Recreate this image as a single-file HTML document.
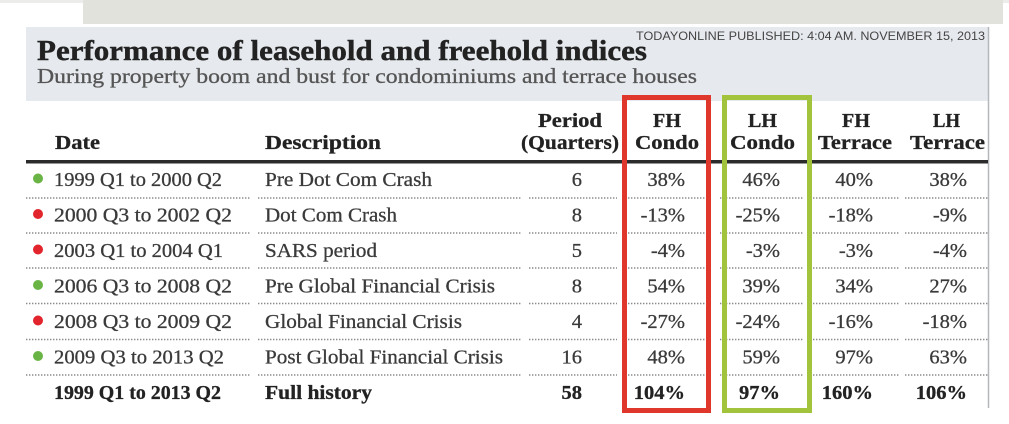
<!DOCTYPE html>
<html>
<head>
<meta charset="utf-8">
<style>
html,body{margin:0;padding:0;background:#fff;}
svg{display:block;}
.t{font-family:"Liberation Serif",serif;}
.s{font-family:"Liberation Sans",sans-serif;}
</style>
</head>
<body>
<svg width="1009" height="424" viewBox="0 0 1009 424" xmlns="http://www.w3.org/2000/svg">
<rect x="0" y="0" width="1009" height="424" fill="#ffffff"/>
<!-- top strip -->
<rect x="0" y="0" width="1009" height="3" fill="#ececea"/>
<rect x="83" y="0" width="920" height="24" fill="#e2e2dd"/>
<!-- title panel -->
<rect x="26" y="27" width="962" height="74" fill="#e6eaee"/>
<line x1="988.5" y1="27" x2="988.5" y2="408" stroke="#b5b8bb" stroke-width="1.5"/>

<text class="t" x="37" y="60" font-size="28" font-weight="bold" fill="#222" stroke="#222" stroke-width="0.4" textLength="610" lengthAdjust="spacingAndGlyphs">Performance of leasehold and freehold indices</text>
<text class="t" x="37" y="83" font-size="21.5" fill="#555" stroke="#555" stroke-width="0.3" textLength="660" lengthAdjust="spacingAndGlyphs">During property boom and bust for condominiums and terrace houses</text>
<text class="s" x="636" y="40" font-size="12" fill="#444" textLength="349" lengthAdjust="spacingAndGlyphs">TODAYONLINE PUBLISHED: 4:04 AM. NOVEMBER 15, 2013</text>

<!-- header -->
<g class="t" font-size="20" font-weight="bold" fill="#222" stroke="#222" stroke-width="0.3">
<text x="55" y="149" textLength="45" lengthAdjust="spacingAndGlyphs">Date</text>
<text x="265" y="149" textLength="116" lengthAdjust="spacingAndGlyphs">Description</text>
<text x="538" y="127" textLength="64" lengthAdjust="spacingAndGlyphs">Period</text>
<text x="521" y="149" textLength="98" lengthAdjust="spacingAndGlyphs">(Quarters)</text>
<text x="653" y="127" textLength="28" lengthAdjust="spacingAndGlyphs">FH</text>
<text x="635" y="149" textLength="64" lengthAdjust="spacingAndGlyphs">Condo</text>
<text x="748" y="127" textLength="29" lengthAdjust="spacingAndGlyphs">LH</text>
<text x="730" y="149" textLength="65" lengthAdjust="spacingAndGlyphs">Condo</text>
<text x="842" y="127" textLength="28" lengthAdjust="spacingAndGlyphs">FH</text>
<text x="818" y="149" textLength="74" lengthAdjust="spacingAndGlyphs">Terrace</text>
<text x="933" y="127" textLength="27" lengthAdjust="spacingAndGlyphs">LH</text>
<text x="910" y="149" textLength="75" lengthAdjust="spacingAndGlyphs">Terrace</text>
</g>
<rect x="26" y="160" width="962" height="3.5" fill="#2b2b2b"/>

<!-- dotted lines -->
<g stroke="#8a8a8a" stroke-width="1.4" stroke-dasharray="1.4 1.6" fill="none">
<path d="M26 198H250M258 198H522M529 198H617M628 198H706M720 198H803M813 198H900M905 198H988"/>
<path d="M26 233H250M258 233H522M529 233H617M628 233H706M720 233H803M813 233H900M905 233H988"/>
<path d="M26 268H250M258 268H522M529 268H617M628 268H706M720 268H803M813 268H900M905 268H988"/>
<path d="M26 303.5H250M258 303.5H522M529 303.5H617M628 303.5H706M720 303.5H803M813 303.5H900M905 303.5H988"/>
<path d="M26 339.5H250M258 339.5H522M529 339.5H617M628 339.5H706M720 339.5H803M813 339.5H900M905 339.5H988"/>
<path d="M26 375H250M258 375H522M529 375H617M628 375H706M720 375H803M813 375H900M905 375H988"/>
</g>

<!-- dots -->
<circle cx="38" cy="178.5" r="5" fill="#6ab446"/>
<circle cx="38" cy="214" r="5" fill="#e2252c"/>
<circle cx="38" cy="249.5" r="5" fill="#e2252c"/>
<circle cx="38" cy="285" r="5" fill="#6ab446"/>
<circle cx="38" cy="320.5" r="5" fill="#e2252c"/>
<circle cx="38" cy="356" r="5" fill="#6ab446"/>

<!-- rows -->
<g class="t" font-size="20.5" fill="#3a3a3a" stroke="#3a3a3a" stroke-width="0.3">
<text x="54" y="186" textLength="168" lengthAdjust="spacingAndGlyphs">1999 Q1 to 2000 Q2</text>
<text x="54" y="221.5" textLength="178" lengthAdjust="spacingAndGlyphs">2000 Q3 to 2002 Q2</text>
<text x="54" y="257" textLength="169" lengthAdjust="spacingAndGlyphs">2003 Q1 to 2004 Q1</text>
<text x="54" y="292.5" textLength="178" lengthAdjust="spacingAndGlyphs">2006 Q3 to 2008 Q2</text>
<text x="54" y="328" textLength="178" lengthAdjust="spacingAndGlyphs">2008 Q3 to 2009 Q2</text>
<text x="54" y="363.5" textLength="170" lengthAdjust="spacingAndGlyphs">2009 Q3 to 2013 Q2</text>

<text x="265" y="186" textLength="167" lengthAdjust="spacingAndGlyphs">Pre Dot Com Crash</text>
<text x="265" y="221.5" textLength="132" lengthAdjust="spacingAndGlyphs">Dot Com Crash</text>
<text x="265" y="257" textLength="112" lengthAdjust="spacingAndGlyphs">SARS period</text>
<text x="265" y="292.5" textLength="230" lengthAdjust="spacingAndGlyphs">Pre Global Financial Crisis</text>
<text x="265" y="328" textLength="197" lengthAdjust="spacingAndGlyphs">Global Financial Crisis</text>
<text x="265" y="363.5" textLength="238" lengthAdjust="spacingAndGlyphs">Post Global Financial Crisis</text>

<g text-anchor="end">
<text x="582" y="186">6</text>
<text x="582" y="221.5">8</text>
<text x="582" y="257">5</text>
<text x="582" y="292.5">8</text>
<text x="582" y="328">4</text>
<text x="582" y="363.5">16</text>

<text x="685" y="186">38%</text>
<text x="685" y="221.5">-13%</text>
<text x="685" y="257">-4%</text>
<text x="685" y="292.5">54%</text>
<text x="685" y="328">-27%</text>
<text x="685" y="363.5">48%</text>

<text x="780" y="186">46%</text>
<text x="780" y="221.5">-25%</text>
<text x="780" y="257">-3%</text>
<text x="780" y="292.5">39%</text>
<text x="780" y="328">-24%</text>
<text x="780" y="363.5">59%</text>

<text x="873" y="186">40%</text>
<text x="873" y="221.5">-18%</text>
<text x="873" y="257">-3%</text>
<text x="873" y="292.5">34%</text>
<text x="873" y="328">-16%</text>
<text x="873" y="363.5">97%</text>

<text x="967" y="186">38%</text>
<text x="967" y="221.5">-9%</text>
<text x="967" y="257">-4%</text>
<text x="967" y="292.5">27%</text>
<text x="967" y="328">-18%</text>
<text x="967" y="363.5">63%</text>
</g>
</g>

<!-- total row -->
<g class="t" font-size="20.5" font-weight="bold" fill="#222" stroke="#222" stroke-width="0.3">
<text x="54" y="399" textLength="167" lengthAdjust="spacingAndGlyphs">1999 Q1 to 2013 Q2</text>
<text x="265" y="399" textLength="107" lengthAdjust="spacingAndGlyphs">Full history</text>
<g text-anchor="end">
<text x="582" y="399">58</text>
<text x="685" y="399">104%</text>
<text x="780" y="399">97%</text>
<text x="873" y="399">160%</text>
<text x="967" y="399">106%</text>
</g>
</g>

<!-- highlight boxes -->
<rect x="624.5" y="97.5" width="84" height="313" fill="none" stroke="#e0372d" stroke-width="5"/>
<rect x="724.5" y="97.5" width="85" height="313" fill="none" stroke="#a2c43c" stroke-width="5"/>
</svg>
</body>
</html>
